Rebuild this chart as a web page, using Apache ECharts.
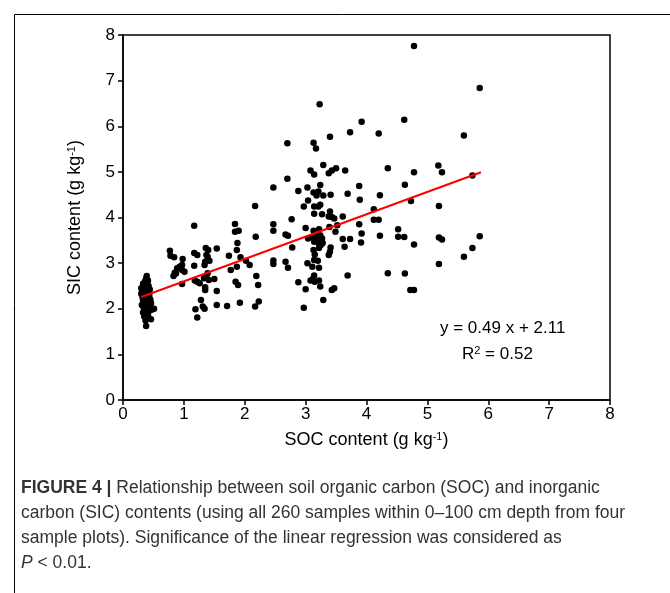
<!DOCTYPE html>
<html>
<head>
<meta charset="utf-8">
<script src="https://cdn.jsdelivr.net/npm/echarts@6/dist/echarts.min.js"></script>
<style>
  html, body { margin: 0; padding: 0; background: #fff; }
  #main { width: 670px; height: 593px; }
</style>
</head>
<body>
<div id="main"></div>
<script>
// SOC (x) and SIC (y) pairs, g kg-1
var clusterSamples = [
  [0.39,2.72],[0.38,2.66],[0.36,2.60],[0.40,2.58],[0.33,2.55],[0.37,2.52],[0.42,2.50],[0.35,2.47],
  [0.30,2.45],[0.39,2.44],[0.44,2.42],[0.33,2.40],[0.37,2.38],[0.41,2.35],[0.30,2.33],[0.35,2.31],
  [0.43,2.30],[0.38,2.28],[0.32,2.26],[0.40,2.24],[0.36,2.22],[0.45,2.20],[0.33,2.18],[0.38,2.16],
  [0.42,2.14],[0.35,2.12],[0.40,2.10],[0.31,2.08],[0.37,2.06],[0.44,2.05],[0.34,2.03],[0.39,2.01],
  [0.51,2.00],[0.47,1.98],[0.36,1.96],[0.42,1.94],[0.33,1.92],[0.38,1.89],[0.41,1.86],[0.35,1.83],
  [0.40,1.80],[0.46,1.77],[0.37,1.74],[0.38,1.62],[0.43,2.26],[0.36,2.36],[0.41,2.62],[0.34,2.28],
  [0.39,2.48],[0.46,2.12]
];
var lowSamples = [
  [0.77,3.27],[0.78,3.16],[0.84,3.13],[0.98,3.09],[0.97,2.96],[0.89,2.89],[0.93,2.92],[0.97,2.85],
  [1.01,2.81],[0.85,2.79],[0.83,2.72],[0.87,2.77],[0.97,2.54],
  [1.17,3.82],[1.17,3.22],[1.22,3.18],[1.36,3.33],[1.40,3.29],[1.37,3.18],[1.39,3.14],[1.35,3.03],
  [1.42,3.05],[1.34,2.96],[1.54,3.32],[1.17,2.94],[1.18,2.62],[1.22,2.59],[1.26,2.56],[1.33,2.67],
  [1.37,2.72],[1.39,2.78],[1.41,2.63],[1.35,2.47],[1.35,2.41],[1.50,2.65],[1.54,2.39],[1.28,2.19],
  [1.31,2.05],[1.19,1.99],[1.22,1.81],[1.34,2.00],[1.54,2.08],
  [1.84,3.86],[1.84,3.69],[1.90,3.71],[1.74,3.16],[1.87,3.29],[1.88,3.44],[1.93,3.13],[1.87,2.92],
  [2.02,3.05],[2.08,2.96],[1.77,2.85],[1.85,2.59],[1.89,2.52],[1.71,2.06],[1.92,2.13],[2.17,4.25],
  [2.18,3.58],[2.19,2.72],[2.22,2.52],[2.17,2.05],[2.23,2.16]
];
var midSamples = [
  [2.70,5.63],[2.70,4.85],[2.47,4.66],[2.88,4.58],[2.47,3.85],[2.47,3.71],[2.67,3.63],[2.71,3.60],
  [2.77,3.96],[2.78,3.34],[2.47,3.06],[2.47,2.98],[2.67,3.03],[2.71,2.90],[2.88,2.58],[2.97,2.02],
  [3.00,2.43],[2.97,4.24],[3.00,3.77],
  [3.23,6.48],[3.13,5.64],[3.17,5.51],[3.40,5.77],[3.29,5.15],[3.08,5.03],[3.14,4.94],[3.38,4.97],
  [3.43,5.03],[3.50,5.08],[3.03,4.66],[3.24,4.71],[3.13,4.55],[3.21,4.57],[3.18,4.48],[3.29,4.48],
  [3.41,4.50],[3.04,4.37],[3.14,4.24],[3.21,4.24],[3.24,4.28],[3.14,4.08],[3.27,4.07],[3.40,4.13],
  [3.43,4.01],[3.47,3.98],[3.38,4.02],
  [3.13,3.71],[3.16,3.64],[3.22,3.74],[3.11,3.57],[3.20,3.57],[3.27,3.54],[3.24,3.61],[3.39,3.79],
  [3.49,3.69],[3.52,3.83],[3.04,3.54],
  [3.13,3.29],[3.15,3.19],[3.22,3.33],[3.25,3.40],[3.28,3.44],[3.14,3.47],[3.21,3.44],[3.41,3.34],
  [3.40,3.25],[3.38,3.18],
  [3.03,3.00],[3.14,3.07],[3.20,3.05],[3.22,2.90],[3.11,2.92],
  [3.12,2.65],[3.08,2.62],[3.15,2.59],[3.22,2.62],[3.14,2.73],[3.24,2.49],[3.43,2.41],[3.47,2.45],
  [3.29,2.19],
  [3.65,5.03],[3.73,5.87],[3.92,6.10],[3.69,4.52],[3.88,4.69],[3.89,4.39],[3.61,4.02],[3.61,3.53],
  [3.73,3.53],[3.64,3.36],[3.88,3.85],[3.92,3.65],[3.91,3.45],[3.69,2.73]
];
var highSamples = [
  [4.78,7.76],[5.86,6.84],[4.62,6.14],[4.20,5.84],[5.60,5.80],[4.35,5.08],[4.78,4.99],[5.18,5.14],
  [5.24,4.99],[5.74,4.92],[4.63,4.72],[4.22,4.49],[4.73,4.36],[5.19,4.25],[4.12,4.18],[4.12,3.95],
  [4.20,3.95],[4.22,3.60],[4.52,3.74],[4.52,3.58],[4.62,3.57],[4.78,3.41],[5.19,3.56],[5.24,3.52],
  [5.86,3.59],[5.74,3.33],[5.60,3.14],[5.19,2.98],[4.35,2.78],[4.63,2.77],[4.72,2.41],[4.78,2.41]
];

// fitted line y = 0.49 x + 2.11, drawn over the SOC range of the samples
var fitSlope = 0.49;
var fitIntercept = 2.11;
var fitRange = [0.3, 5.88];

var allSamples = clusterSamples.concat(lowSamples, midSamples, highSamples);
var fitLine = fitRange.map(function (x) { return [x, fitSlope * x + fitIntercept]; });

var FONT = 'Liberation Sans, Arial, sans-serif';
// raised small text for the "-1" and "2" exponents
var supRich = {
  sup: { fontSize: 11, fontFamily: FONT, color: '#000', verticalAlign: 'bottom', padding: [0, 0, 8, 0] }
};

var option = {
  animation: false,
  backgroundColor: '#fff',
  grid: {
    left: 123, top: 35, right: 60, bottom: 193,
    show: true, borderColor: '#000', borderWidth: 1.5
  },
  xAxis: {
    type: 'value', min: 0, max: 8, interval: 1,
    name: 'SOC content (g kg{sup|-1})',
    nameLocation: 'middle', nameGap: 31,
    nameTextStyle: { fontSize: 18, fontFamily: FONT, color: '#000', rich: supRich },
    axisLine: { lineStyle: { color: '#000', width: 1.5 } },
    axisTick: { length: 5, lineStyle: { color: '#000', width: 1.5 } },
    axisLabel: { fontSize: 17, fontFamily: FONT, color: '#000', margin: 6 },
    splitLine: { show: false }
  },
  yAxis: {
    type: 'value', min: 0, max: 8, interval: 1,
    name: 'SIC content (g kg{sup|-1})',
    nameLocation: 'middle', nameGap: 38,
    nameTextStyle: { fontSize: 18, fontFamily: FONT, color: '#000', rich: supRich },
    axisLine: { lineStyle: { color: '#000', width: 1.5 } },
    axisTick: { length: 5, lineStyle: { color: '#000', width: 1.5 } },
    axisLabel: { fontSize: 17, fontFamily: FONT, color: '#000', margin: 8 },
    splitLine: { show: false }
  },
  series: [
    {
      type: 'scatter',
      data: allSamples,
      symbolSize: 6.5,
      itemStyle: { color: '#000', opacity: 1 }
    },
    {
      type: 'line',
      data: fitLine,
      symbol: 'none',
      lineStyle: { color: '#ff0000', width: 2 },
      z: 5
    }
  ],
  graphic: [
    {
      type: 'rect', silent: true,
      shape: { x: 14.5, y: 14.5, width: 700, height: 700 },
      style: { fill: 'none', stroke: '#000', lineWidth: 1 }
    },
    {
      type: 'text', left: 440, top: 320,
      style: { text: 'y = 0.49 x + 2.11', font: '17px ' + FONT, fill: '#000' }
    },
    {
      type: 'text', left: 462, top: 345,
      style: {
        text: 'R{sup|2} = 0.52', font: '17px ' + FONT, fill: '#000',
        rich: { sup: { fontSize: 11, fontFamily: FONT, fill: '#000', verticalAlign: 'bottom', padding: [0, 0, 7, 0] } }
      }
    },
    {
      type: 'text', left: 21, top: 476,
      style: {
        text: '{b|FIGURE 4 |} Relationship between soil organic carbon (SOC) and inorganic\n' +
              'carbon (SIC) contents (using all 260 samples within 0\u2013100 cm depth from four\n' +
              'sample plots). Significance of the linear regression was considered as\n' +
              '{i|P} < 0.01.',
        font: '17.5px ' + FONT, fill: '#333', lineHeight: 25,
        rich: {
          b: { fontWeight: 'bold', fontSize: 17.5, fontFamily: FONT, fill: '#333', lineHeight: 25 },
          i: { fontStyle: 'italic', fontSize: 17.5, fontFamily: FONT, fill: '#333', lineHeight: 25 }
        }
      }
    }
  ]
};

var chartDom = document.getElementById('main');
var myChart = echarts.init(chartDom);
option && myChart.setOption(option);
</script>
</body>
</html>
